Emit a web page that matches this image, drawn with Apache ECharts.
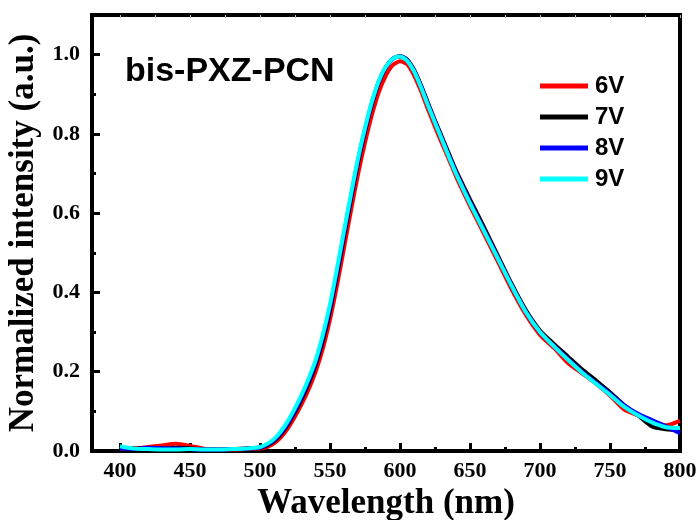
<!DOCTYPE html>
<html><head><meta charset="utf-8">
<script src="https://cdn.jsdelivr.net/npm/echarts@6/dist/echarts.min.js"></script>
<style>html,body{margin:0;padding:0;background:#fff}#c{width:700px;height:520px}</style>
</head><body><div id="c"></div>
<script>
const wavelength = [400,410,420,430,440,450,460,470,480,490,500,505,510,515,520,525,530,535,540,545,550,555,560,565,570,575,580,585,590,595,600,605,610,615,620,625,630,635,640,645,650,660,670,680,690,700,710,720,730,740,750,760,770,780,790,800];
const v6 = [0.006,0.006,0.010,0.014,0.018,0.013,0.006,0.004,0.004,0.005,0.006,
 0.010,0.019,0.035,0.058,0.087,0.120,0.158,0.203,0.260,0.332,0.418,0.512,0.607,0.698,0.778,0.849,0.907,0.948,0.974,0.983,0.976,0.948,0.908,0.862,0.818,0.776,0.735,0.693,0.655,0.618,
 0.548,0.477,0.406,0.343,0.293,0.260,0.222,0.196,0.170,0.140,0.105,0.090,0.075,0.065,0.076];
const v7 = [0.008,0.006,0.006,0.006,0.008,0.007,0.004,0.004,0.005,0.006,0.008,
 0.014,0.025,0.043,0.068,0.098,0.133,0.173,0.220,0.280,0.355,0.445,0.540,0.635,0.727,0.806,0.875,0.930,0.968,0.990,0.996,0.988,0.962,0.923,0.878,0.834,0.792,0.750,0.708,0.671,0.635,
 0.565,0.492,0.420,0.355,0.304,0.270,0.238,0.206,0.178,0.148,0.116,0.090,0.062,0.055,0.052];
const v8 = [0.006,0.005,0.008,0.007,0.006,0.005,0.004,0.004,0.005,0.006,0.009,
 0.016,0.027,0.046,0.071,0.102,0.138,0.179,0.226,0.288,0.362,0.452,0.548,0.642,0.733,0.811,0.879,0.933,0.969,0.990,0.996,0.987,0.960,0.920,0.875,0.831,0.788,0.745,0.703,0.665,0.628,
 0.558,0.487,0.415,0.351,0.300,0.265,0.232,0.200,0.172,0.145,0.116,0.094,0.078,0.062,0.045];
const v9 = [0.012,0.006,0.005,0.004,0.004,0.005,0.004,0.004,0.005,0.006,0.010,
 0.018,0.030,0.050,0.076,0.108,0.144,0.185,0.232,0.295,0.370,0.460,0.555,0.648,0.738,0.815,0.882,0.935,0.970,0.990,0.995,0.985,0.958,0.918,0.872,0.828,0.785,0.742,0.700,0.662,0.625,
 0.555,0.485,0.415,0.350,0.300,0.264,0.230,0.198,0.170,0.142,0.112,0.090,0.072,0.060,0.058];
const seriesNames = ['6V','7V','8V','9V'];
const seriesColors = ['#ff0000','#000000','#0000ff','#00ffff'];
const xMajor = [400,450,500,550,600,650,700,750,800];
const xMinor = [425,475,525,575,625,675,725,775];
const yMajor = [0,0.2,0.4,0.6,0.8,1.0];
const yMinor = [0.1,0.3,0.5,0.7,0.9];
const titleText = 'bis-PXZ-PCN';

const serif = 'Liberation Serif';
const sans = 'Liberation Sans';
const allVals = [v6,v7,v8,v9];

const chart = echarts.init(document.getElementById('c'), null, {renderer:'canvas'});
const baseX = {type:'value', min:380, max:800, gridIndex:0, splitLine:{show:false}, axisLine:{show:false}};
const baseY = {type:'value', min:0, max:1.1, gridIndex:0, splitLine:{show:false}, axisLine:{show:false}};
chart.setOption({
  animation:false,
  backgroundColor:'#fff',
  title:{text:titleText, left:120, top:50, textStyle:{fontFamily:sans, fontWeight:'bold', fontSize:34, color:'#000'}},
  legend:{data:seriesNames, orient:'vertical', left:540, top:74, padding:0, icon:'rect', itemWidth:48, itemHeight:5, itemGap:7,
    textStyle:{fontFamily:sans, fontWeight:'bold', fontSize:24, color:'#000', lineHeight:24, padding:[0,0,0,2]}},
  grid:{left:92, right:20, top:15, bottom:69, outerBoundsMode:'none', containLabel:false, show:true, borderColor:'#000', borderWidth:4, backgroundColor:'transparent'},
  xAxis:[
    Object.assign({}, baseX, {position:'bottom',
      axisTick:{show:true, inside:true, length:8, customValues:xMajor, lineStyle:{color:'#000', width:3}},
      axisLabel:{customValues:xMajor, margin:9, fontFamily:serif, fontWeight:'bold', fontSize:22, color:'#000'},
      name:'Wavelength (nm)', nameLocation:'middle', nameGap:26,
      nameTextStyle:{fontFamily:serif, fontWeight:'bold', fontSize:35, color:'#000'}}),
    Object.assign({}, baseX, {position:'bottom',
      axisTick:{show:true, inside:true, length:4, customValues:xMinor, lineStyle:{color:'#000', width:3}},
      axisLabel:{show:false}}),
    Object.assign({}, baseX, {position:'top',
      axisTick:{show:true, inside:true, length:3, customValues:xMajor.concat(xMinor), lineStyle:{color:'#bbb', width:1}},
      axisLabel:{show:false}})
  ],
  yAxis:[
    Object.assign({}, baseY, {position:'left',
      axisTick:{show:true, inside:true, length:8, customValues:yMajor, lineStyle:{color:'#000', width:3}},
      axisLabel:{customValues:yMajor, margin:12, formatter:(v)=>v.toFixed(1), fontFamily:serif, fontWeight:'bold', fontSize:22, color:'#000'},
      name:'Normalized intensity (a.u.)', nameLocation:'middle', nameGap:47,
      nameTextStyle:{fontFamily:serif, fontWeight:'bold', fontSize:35, color:'#000'}}),
    Object.assign({}, baseY, {position:'left',
      axisTick:{show:true, inside:true, length:4, customValues:yMinor, lineStyle:{color:'#000', width:3}},
      axisLabel:{show:false}})
  ],
  series: seriesNames.map((n,i)=>({
    name:n, type:'line', xAxisIndex:0, yAxisIndex:0, showSymbol:false, smooth:0.25,
    data: wavelength.map((w,j)=>[w, allVals[i][j]]),
    lineStyle:{color:seriesColors[i], width:4}, itemStyle:{color:seriesColors[i]}, z:2+i
  }))
});
</script></body></html>
